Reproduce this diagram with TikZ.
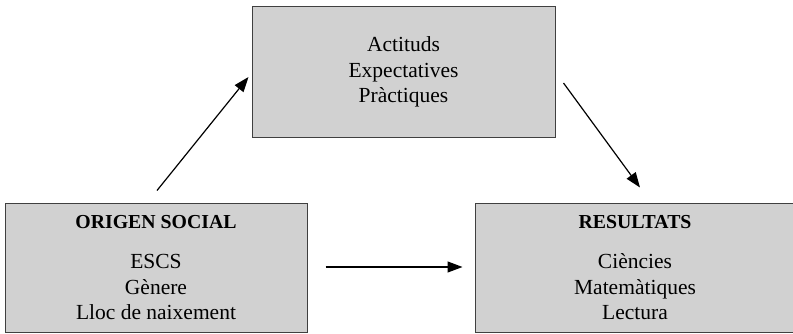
\documentclass[tikz,border=0pt]{standalone}
\usepackage{fontspec}
\setmainfont{Liberation Serif}
\usetikzlibrary{arrows.meta}

\tikzset{
  factor/.style={draw=black!75, fill=black!18, line width=1pt, align=center,
    inner sep=0pt, font=\fontsize{21.5}{25.5}\selectfont},
  link/.style={line width=1.2pt, -{Triangle[length=15pt,width=11pt]}}
}

\begin{document}
\begin{tikzpicture}[x=1pt,y=1pt]
  \useasboundingbox (0,0) rectangle (793,333);

  % boxes
  \node[factor, minimum width=303pt, minimum height=130pt] (actituds) at (403.5,261)
    {Actituds\\Expectatives\\Pràctiques};
  \node[factor, minimum width=302pt, minimum height=129pt] (origen) at (156,65.5)
    {{\bfseries\fontsize{19.8}{25.5}\selectfont ORIGEN SOCIAL}\\[15pt]ESCS\\Gènere\\Lloc de naixement};
  \node[factor, minimum width=320pt, minimum height=129pt] (resultats) at (635,65.5)
    {{\bfseries\fontsize{19.8}{25.5}\selectfont RESULTATS}\\[15pt]Ciències\\Matemàtiques\\Lectura};

  % arrows
  \draw[link] ([shift={(1,12)}]origen.north) -- ([shift={(-3,-5)}]actituds.west);
  \draw[link] ([shift={(8,-11)}]actituds.east) -- ([shift={(5,15)}]resultats.north);
  \draw[link] ([shift={(18,0.5)}]origen.east) -- ([shift={(-12,0.5)}]resultats.west);
\end{tikzpicture}
\end{document}
